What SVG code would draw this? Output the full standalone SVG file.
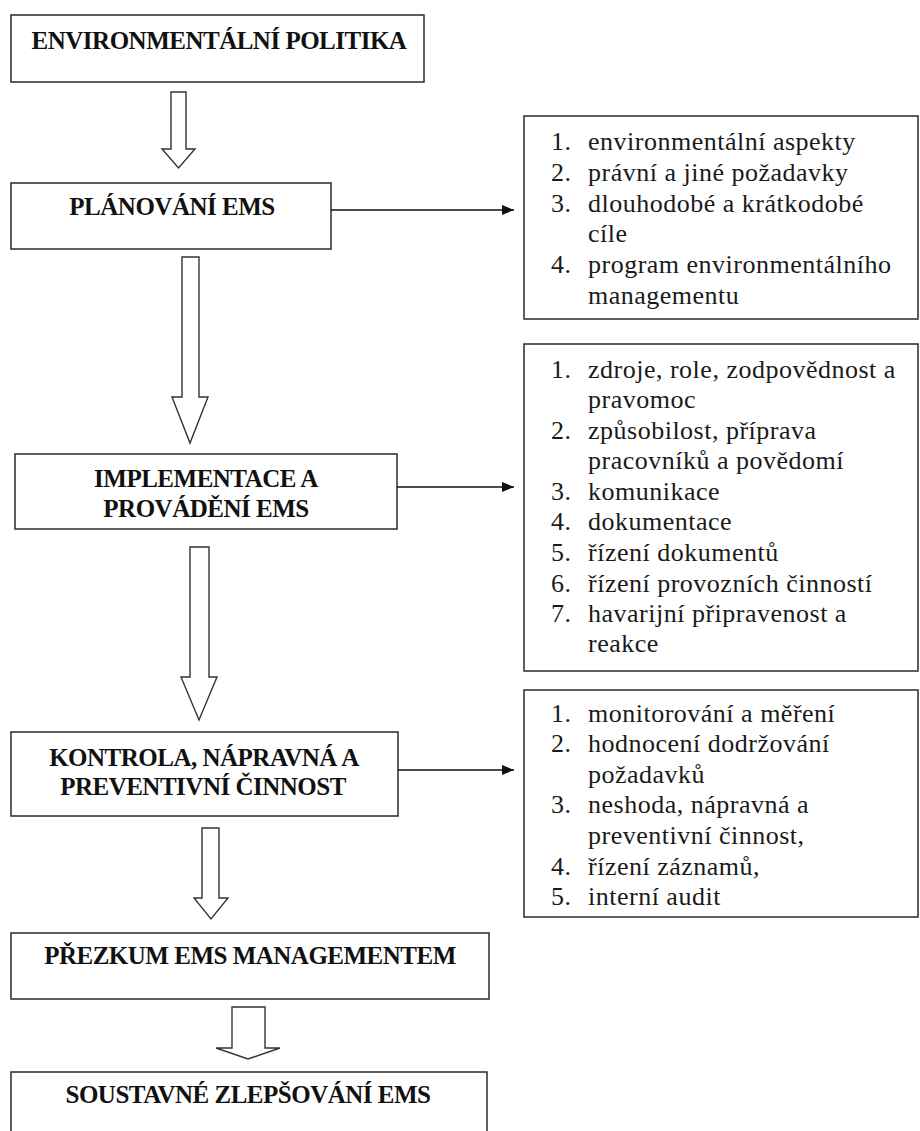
<svg xmlns="http://www.w3.org/2000/svg" width="920" height="1131" viewBox="0 0 920 1131">
  <style>
    .box { fill: #ffffff; stroke: #2a2a2a; stroke-width: 1.5; }
    .flow { fill: #ffffff; stroke: #333333; stroke-width: 1.4; stroke-linejoin: miter; }
    .link { fill: none; stroke: #111111; stroke-width: 1.4; }
    .head { font-family: "Liberation Serif", "DejaVu Serif", serif; font-weight: bold; font-size: 25px; letter-spacing: -0.5px; fill: #111111; text-anchor: middle; }
    .item { font-family: "Liberation Serif", "DejaVu Serif", serif; font-size: 26px; fill: #1a1a1a; letter-spacing: 0.5px; }
  </style>
  <defs>
    <marker id="tip" viewBox="0 0 12 10" refX="12" refY="5" markerWidth="12" markerHeight="10" markerUnits="userSpaceOnUse" orient="auto">
      <path d="M0,0 L12,5 L0,10 Z" fill="#111111"/>
    </marker>
  </defs>

  <rect width="920" height="1131" fill="#ffffff"/>

  <!-- main process steps -->
  <g id="politika">
    <rect class="box" x="11" y="15" width="413" height="67"/>
    <text class="head" x="219" y="49">ENVIRONMENTÁLNÍ POLITIKA</text>
  </g>
  <g id="planovani">
    <rect class="box" x="11" y="183" width="320" height="66"/>
    <text class="head" x="172" y="215">PLÁNOVÁNÍ EMS</text>
  </g>
  <g id="implementace">
    <rect class="box" x="15" y="454" width="382" height="75"/>
    <text class="head" x="206" y="487">IMPLEMENTACE A</text>
    <text class="head" x="206" y="517">PROVÁDĚNÍ EMS</text>
  </g>
  <g id="kontrola">
    <rect class="box" x="11" y="732" width="387" height="84"/>
    <text class="head" x="204" y="766">KONTROLA, NÁPRAVNÁ A</text>
    <text class="head" x="203" y="795">PREVENTIVNÍ ČINNOST</text>
  </g>
  <g id="prezkum">
    <rect class="box" x="11" y="933" width="478" height="66"/>
    <text class="head" x="250" y="964">PŘEZKUM EMS MANAGEMENTEM</text>
  </g>
  <g id="zlepsovani">
    <rect class="box" x="11" y="1072" width="476" height="80"/>
    <text class="head" x="248" y="1103">SOUSTAVNÉ ZLEPŠOVÁNÍ EMS</text>
  </g>

  <!-- detail lists -->
  <g id="planovani-detail">
    <rect class="box" x="524" y="116" width="394" height="203"/>
    <text class="item" x="551" y="150">1.</text><text class="item" x="588" y="150">environmentální aspekty</text>
    <text class="item" x="551" y="181">2.</text><text class="item" x="588" y="181">právní a jiné požadavky</text>
    <text class="item" x="551" y="212">3.</text><text class="item" x="588" y="212">dlouhodobé a krátkodobé</text>
    <text class="item" x="588" y="242">cíle</text>
    <text class="item" x="551" y="273">4.</text><text class="item" x="588" y="273">program environmentálního</text>
    <text class="item" x="588" y="304">managementu</text>
  </g>
  <g id="implementace-detail">
    <rect class="box" x="524" y="344" width="394" height="327"/>
    <text class="item" x="551" y="378">1.</text><text class="item" x="588" y="378">zdroje, role, zodpovědnost a</text>
    <text class="item" x="588" y="408">pravomoc</text>
    <text class="item" x="551" y="439">2.</text><text class="item" x="588" y="439">způsobilost, příprava</text>
    <text class="item" x="588" y="469">pracovníků a povědomí</text>
    <text class="item" x="551" y="500">3.</text><text class="item" x="588" y="500">komunikace</text>
    <text class="item" x="551" y="530">4.</text><text class="item" x="588" y="530">dokumentace</text>
    <text class="item" x="551" y="561">5.</text><text class="item" x="588" y="561">řízení dokumentů</text>
    <text class="item" x="551" y="592">6.</text><text class="item" x="588" y="592">řízení provozních činností</text>
    <text class="item" x="551" y="622">7.</text><text class="item" x="588" y="622">havarijní připravenost a</text>
    <text class="item" x="588" y="652">reakce</text>
  </g>
  <g id="kontrola-detail">
    <rect class="box" x="524" y="690" width="394" height="227"/>
    <text class="item" x="551" y="722">1.</text><text class="item" x="588" y="722">monitorování a měření</text>
    <text class="item" x="551" y="752">2.</text><text class="item" x="588" y="752">hodnocení dodržování</text>
    <text class="item" x="588" y="783">požadavků</text>
    <text class="item" x="551" y="813">3.</text><text class="item" x="588" y="813">neshoda, nápravná a</text>
    <text class="item" x="588" y="844">preventivní činnost,</text>
    <text class="item" x="551" y="875">4.</text><text class="item" x="588" y="875">řízení záznamů,</text>
    <text class="item" x="551" y="905">5.</text><text class="item" x="588" y="905">interní audit</text>
  </g>

  <!-- connectors: hollow block arrows down the flow, thin arrows to the lists -->
  <g id="connectors">
    <polygon class="flow" points="171,92 186,92 186,149 195,149 178.5,168 162,149 171,149"/>
    <polygon class="flow" points="182,257 199,257 199,397 208,397 190,443 172,397 182,397"/>
    <polygon class="flow" points="190,547 209,547 209,677 217,677 199,720 181,677 190,677"/>
    <polygon class="flow" points="202,828 219,828 219,898 228,898 211,919 194,898 202,898"/>
    <polygon class="flow" points="232,1007 265,1007 265,1048 280,1048 248,1059 216,1048 232,1048"/>
    <line class="link" x1="331" y1="210" x2="514" y2="210" marker-end="url(#tip)"/>
    <line class="link" x1="397" y1="487" x2="514" y2="487" marker-end="url(#tip)"/>
    <line class="link" x1="398" y1="770" x2="514" y2="770" marker-end="url(#tip)"/>
  </g>
</svg>
